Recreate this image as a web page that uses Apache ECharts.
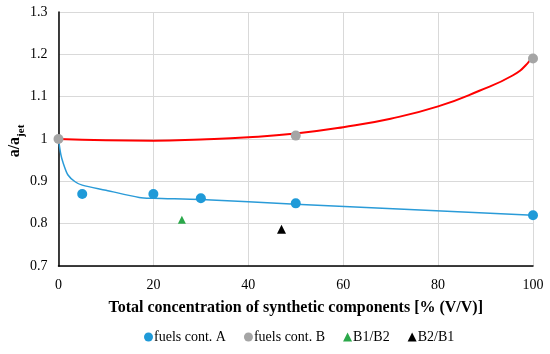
<!DOCTYPE html>
<html>
<head>
<meta charset="utf-8">
<script src="https://cdn.jsdelivr.net/npm/echarts@6/dist/echarts.min.js"></script>
<style>html,body{margin:0;padding:0;background:#fff}#c{width:550px;height:354px}</style>
</head>
<body>
<div id="c"></div>
<script>
// ---- data ----
const fuelsA = [[5, 0.87], [20, 0.87], [30, 0.86], [50, 0.848], [100, 0.82]];
const fuelsB = [[0, 1.0], [50, 1.008], [100, 1.19]];
const b1b2 = [[26, 0.809]];
const b2b1 = [[47, 0.787]];
const trendA = [[0, 1.0], [0.5, 0.963], [1, 0.943], [2, 0.915], [3.5, 0.899], [5, 0.891], [10, 0.879], [17, 0.862], [20, 0.860], [30, 0.857], [50, 0.846], [100, 0.82]];
const trendB = [[0, 1.0], [10, 0.997], [20, 0.996], [30, 0.999], [40, 1.004], [50, 1.013], [60, 1.028], [70, 1.048], [80, 1.077], [88.7, 1.114], [95.7, 1.15], [98.8, 1.178], [100, 1.2]];
const xTicks = ['0', '20', '40', '60', '80', '100'];
const yTicks = ['0.7', '0.8', '0.9', '1', '1.1', '1.2', '1.3'];
const legendNames = ['fuels cont. A', 'fuels cont. B', 'B1/B2', 'B2/B1'];

const serif = '"Liberation Serif", "Times New Roman", serif';
const chart = echarts.init(document.getElementById('c'), null, {renderer: 'canvas'});
chart.setOption({
  animation: false,
  textStyle: {fontFamily: serif},
  grid: {left: 58.5, right: 17, top: 12, bottom: 88, containLabel: false, outerBoundsMode: 'none'},
  graphic: [{
    type: 'text', x: 17, y: 141, rotation: Math.PI / 2, z: 10,
    style: {
      text: '{a|a/a}{s|jet}', align: 'center', verticalAlign: 'middle',
      rich: {
        a: {fontFamily: serif, fontSize: 16, fontWeight: 'bold', fill: '#000', verticalAlign: 'top', lineHeight: 20},
        s: {fontFamily: serif, fontSize: 11, fontWeight: 'bold', fill: '#000', verticalAlign: 'bottom', lineHeight: 20, padding: [8, 0, 0, 0]}
      }
    }
  }],
  legend: {
    data: [
      {name: legendNames[0], icon: 'circle'},
      {name: legendNames[1], icon: 'circle'},
      {name: legendNames[2], icon: 'triangle'},
      {name: legendNames[3], icon: 'triangle'}
    ],
    left: 139, top: 325, itemWidth: 9, itemHeight: 9, itemGap: 18,
    textStyle: {fontFamily: serif, fontSize: 14, color: '#000', padding: [0, 0, 0, -4]}
  },
  xAxis: {
    type: 'value', min: 0, max: 100, interval: 20,
    name: 'Total concentration of synthetic components [% (V/V)]',
    nameLocation: 'middle', nameGap: 34,
    nameTextStyle: {fontFamily: serif, fontSize: 16, fontWeight: 'bold', color: '#000'},
    axisLine: {lineStyle: {color: '#000', width: 1.5}},
    axisTick: {show: false},
    axisLabel: {fontFamily: serif, fontSize: 14, color: '#000', margin: 12,
      formatter: v => xTicks[Math.round(v / 20)]},
    splitLine: {show: true, lineStyle: {color: '#d9d9d9', width: 1}}
  },
  yAxis: {
    type: 'value', min: 0.7, max: 1.3, interval: 0.1,
    axisLine: {show: true, lineStyle: {color: '#000', width: 1.5}},
    axisTick: {show: false},
    axisLabel: {fontFamily: serif, fontSize: 14, color: '#000', margin: 11,
      formatter: v => yTicks[Math.round((v - 0.7) * 10)]},
    splitLine: {show: true, lineStyle: {color: '#d9d9d9', width: 1}}
  },
  series: [
    {name: 'trendB', type: 'line', data: trendB, smooth: true, showSymbol: false, symbol: 'none',
      lineStyle: {color: '#ff0000', width: 2}, z: 2},
    {name: 'trendA', type: 'line', data: trendA, smooth: 0.3, showSymbol: false, symbol: 'none',
      lineStyle: {color: '#2a9bd8', width: 1.5}, z: 2},
    {name: legendNames[0], type: 'scatter', data: fuelsA, symbol: 'circle', symbolSize: 10,
      itemStyle: {color: '#1f9ad8', opacity: 1}, z: 3},
    {name: legendNames[1], type: 'scatter', data: fuelsB, symbol: 'circle', symbolSize: 10,
      itemStyle: {color: '#a5a5a5', opacity: 1}, z: 4},
    {name: legendNames[2], type: 'scatter', data: b1b2, symbol: 'triangle', symbolSize: 8,
      itemStyle: {color: '#2ba84a', opacity: 1}, z: 3},
    {name: legendNames[3], type: 'scatter', data: b2b1, symbol: 'triangle', symbolSize: 9,
      itemStyle: {color: '#000', opacity: 1}, z: 3}
  ]
});
</script>
</body>
</html>
